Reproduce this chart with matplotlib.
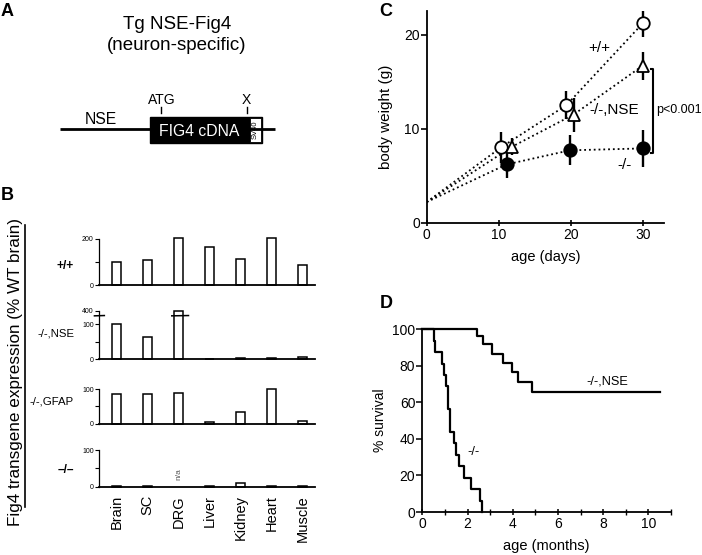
import numpy as np
import matplotlib
matplotlib.use('Agg')
import matplotlib.pyplot as plt
from matplotlib.patches import Rectangle

plt.rcParams['font.family'] = ['Liberation Sans', 'DejaVu Sans']
plt.rcParams['axes.linewidth'] = 1.3

W, H = 702, 555

# B: Fig4 transgene expression (% WT brain)
tissues = ['Brain', 'SC', 'DRG', 'Liver', 'Kidney', 'Heart', 'Muscle']
row_labels = ['+/+', '-/-,NSE', '-/-,GFAP', '–/–']
expr_wt = [100, 110, 204, 164, 113, 201, 85]
expr_nse = [101, 64, 400, 1, 5, 4, 7]
expr_gfap = [86, 86, 88, 4, 35, 100, 7.5]
expr_ko = [1, 2, np.nan, 1, 9, 3, 1]

# C: body weight (g) vs age (days)
birth_weight = 2.2
wt_age = [10.3, 19.4, 30]
wt_weight = [8.0, 12.5, 21.2]
wt_sd = [1.6, 1.5, 1.4]
nse_age = [11.9, 20.4, 30]
nse_weight = [8.1, 11.5, 16.7]
nse_sd = [0.9, 1.8, 1.5]
ko_age = [11.1, 19.9, 30]
ko_weight = [6.2, 7.7, 7.9]
ko_sd = [1.4, 1.6, 2.0]

# D: % survival vs age (months)
ko_months = [0, 0.5, 0.57, 0.88, 0.97, 1.06, 1.15, 1.22, 1.4, 1.5, 1.62, 1.85, 2.15, 2.55, 2.63]
ko_surv = [100, 93.75, 87.5, 81.25, 75, 68.75, 56.25, 43.75, 37.5, 31.25, 25, 18.75, 12.5, 6.25, 0]
nse_months = [0, 2.4, 2.68, 3.08, 3.55, 3.96, 4.25, 4.85, 10.5]
nse_surv = [100, 96.4, 91.7, 86.6, 81.5, 76.4, 71.1, 65.9, 65.9]


def px_rect(x0, y0, x1, y1):
    # pixel box (top-left origin) -> figure fraction
    return [x0 / W, 1 - y1 / H, (x1 - x0) / W, (y1 - y0) / H]


fig = plt.figure(figsize=(W / 100, H / 100), dpi=100)

# overlay in pixel units for panel letters and the construct drawing
ov = fig.add_axes([0, 0, 1, 1])
ov.set_xlim(0, W)
ov.set_ylim(H, 0)
ov.axis('off')

for letter, x, y in [('A', 1, 11), ('B', 1, 195), ('C', 379, 12), ('D', 380, 303)]:
    ov.text(x, y, letter, fontsize=13, fontweight='bold', ha='left', va='center')

# panel A
ov.text(177, 35, 'Tg NSE-Fig4\n(neuron-specific)', ha='center', va='center',
        fontsize=13.5, linespacing=1.25)
ov.plot([60, 275], [129.3, 129.3], color='black', lw=2, solid_capstyle='butt')
ov.add_patch(Rectangle((150, 116.7), 111.7, 26.6, color='black'))
ov.add_patch(Rectangle((249.6, 118.2), 11, 23.6, facecolor='white', edgecolor='black', lw=0.6))
ov.text(255.1, 130, 'SV40', rotation=90, ha='center', va='center', fontsize=5.5)
ov.text(199, 131, 'FIG4 cDNA', color='white', ha='center', va='center', fontsize=11.3)
ov.text(101, 120, 'NSE', ha='center', va='center', fontsize=11.3)
ov.text(162, 100, 'ATG', ha='center', va='center', fontsize=10)
ov.text(246.5, 100, 'X', ha='center', va='center', fontsize=10)
ov.plot([161, 161], [106.5, 113], color='black', lw=1)
ov.plot([246.5, 246.5], [106.5, 113], color='black', lw=1)

# panel B
ov.text(16, 372, 'Fig4 transgene expression (% WT brain)', rotation=90,
        ha='center', va='center', fontsize=12.3)
ov.plot([25, 25], [225, 507], color='black', lw=1.2)
label_y = [266, 334, 402, 470]
for lab, y in zip(row_labels, label_y):
    bold = lab in ('+/+', '–/–')
    ov.text(74, y, lab, ha='right', va='center', fontsize=8.6 if bold else 8.2,
            fontweight='bold' if bold else 'normal')

brk, k = 115, 23.9 / 285


def fwd(v):
    v = np.asarray(v, dtype=float)
    return np.where(v <= brk, v, brk + (v - brk) * k)


def inv(u):
    u = np.asarray(u, dtype=float)
    return np.where(u <= brk, u, brk + (u - brk) / k)


rows = [
    (expr_wt, 238.7, 285.3, 200, [0, 100, 200], ['0', '', '200']),
    (expr_nse, 310.7, 359.3, 400, [0, 50, 100, 400], ['0', '', '100', '400']),
    (expr_gfap, 389, 423.7, 100, [0, 50, 100], ['0', '', '100']),
    (expr_ko, 450.3, 486.7, 100, [0, 50, 100], ['0', '', '100']),
]
xpos = np.arange(len(tissues))
for i, (vals, top, bot, ymax, yt, ytl) in enumerate(rows):
    ax = fig.add_axes(px_rect(99.3, top, 315, bot))
    if i == 1:
        ax.set_yscale('function', functions=(fwd, inv))
    ax.bar(xpos, vals, width=0.29, facecolor='white', edgecolor='black', lw=1.1, clip_on=False)
    ax.set_xlim(-0.563, 6.41)
    ax.set_ylim(0, ymax)
    ax.set_yticks(yt)
    ax.set_yticklabels(ytl)
    ax.yaxis.set_minor_locator(plt.NullLocator())
    ax.tick_params(axis='y', direction='out', length=3, width=0.8, labelsize=5, pad=1)
    ax.spines['top'].set_visible(False)
    ax.spines['right'].set_visible(False)
    ax.spines['left'].set_linewidth(0.9)
    ax.spines['bottom'].set_linewidth(1.3)
    ax.set_facecolor('none')
    if i == 1:
        ax.plot([-0.72, -0.40], [225, 235], color='black', lw=1.1, clip_on=False)
        ax.plot([1.78, 2.32], [225, 235], color='black', lw=1.1, clip_on=False)
    if i == 3:
        ax.set_xticks(xpos)
        ax.set_xticklabels(tissues, rotation=90, fontsize=10.5)
        ax.tick_params(axis='x', length=0, pad=6)
        ax.text(2, 35, 'n/a', rotation=90, ha='center', va='center', fontsize=6, color='#555555')
    else:
        ax.set_xticks([])

# panel C
axc = fig.add_axes(px_rect(426.7, 10.7, 664.3, 222.7))
axc.set_facecolor('none')
groups = [
    (wt_age, wt_weight, wt_sd, 'o', 'white'),
    (nse_age, nse_weight, nse_sd, '^', 'white'),
    (ko_age, ko_weight, ko_sd, 'o', 'black'),
]
for age, wt, sd, mk, fc in groups:
    axc.plot(np.r_[0, age], np.r_[birth_weight, wt], ls=':', color='black', lw=1.3, zorder=1)
    axc.errorbar(age, wt, yerr=sd, fmt='none', ecolor='black', elinewidth=1.7, capsize=0, zorder=2)
    axc.plot(age, wt, ls='none', marker=mk, ms=9, mfc=fc, mec='black', mew=1.3, zorder=3,
             clip_on=False)
axc.set_xlim(0, 33)
axc.set_ylim(0, 22.55)
axc.set_xticks([0, 10, 20, 30])
axc.set_yticks([0, 10, 20])
axc.tick_params(axis='x', direction='inout', length=5, width=1.2, labelsize=10, pad=1)
axc.tick_params(axis='y', direction='out', length=4, width=1.2, labelsize=10, pad=1)
axc.spines['top'].set_visible(False)
axc.spines['right'].set_visible(False)
axc.set_xlabel('age (days)', fontsize=10.5, labelpad=6)
axc.set_ylabel('body weight (g)', fontsize=11, labelpad=8)
axc.text(23.9, 18.6, '+/+', ha='center', va='center', fontsize=11)
axc.text(26.0, 12.0, '-/-,NSE', ha='center', va='center', fontsize=11)
axc.text(27.5, 6.1, '-/-', ha='center', va='center', fontsize=11)
axc.plot([31.1, 31.4, 31.4, 31.1], [16.3, 16.3, 7.4, 7.4], color='black', lw=1.5, clip_on=False)
axc.text(31.8, 12.0, 'p<0.001', ha='left', va='center', fontsize=9, clip_on=False)

# panel D
axd = fig.add_axes(px_rect(422.3, 329.3, 670.9, 512))
axd.set_facecolor('none')
axd.step(ko_months, ko_surv, where='post', color='black', lw=1.6, clip_on=False)
axd.step(nse_months, nse_surv, where='post', color='black', lw=1.6, clip_on=False)
axd.set_xlim(0, 11)
axd.set_ylim(0, 100)
axd.set_xticks([0, 2, 4, 6, 8, 10])
axd.set_xticks([1, 3, 5, 7, 9, 11], minor=True)
axd.set_yticks([0, 20, 40, 60, 80, 100])
axd.tick_params(axis='x', which='major', direction='inout', length=5, width=1.1, labelsize=10, pad=1)
axd.tick_params(axis='x', which='minor', direction='inout', length=4, width=1.0)
axd.tick_params(axis='y', direction='out', length=4, width=1.1, labelsize=10, pad=1)
axd.spines['top'].set_visible(False)
axd.spines['right'].set_visible(False)
axd.set_xlabel('age (months)', fontsize=10.5, labelpad=6)
axd.set_ylabel('% survival', fontsize=10, labelpad=4)
axd.text(8.2, 71.7, '-/-,NSE', ha='center', va='center', fontsize=9.2)
axd.text(2.26, 33, '-/-', ha='center', va='center', fontsize=9.2)

fig.savefig('out.png', dpi=100)
